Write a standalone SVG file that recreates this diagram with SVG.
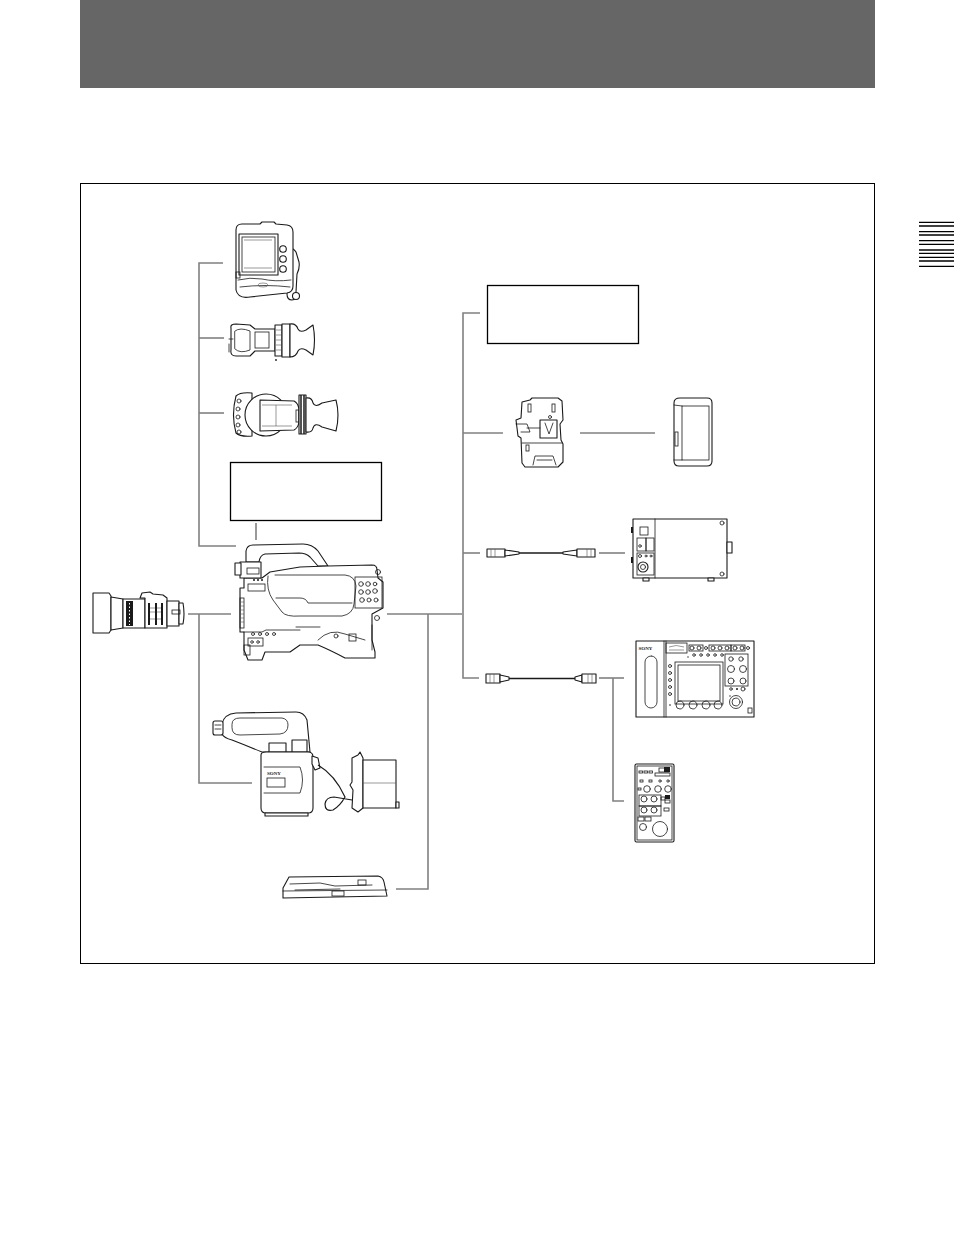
<svg xmlns="http://www.w3.org/2000/svg" width="954" height="1244" viewBox="0 0 954 1244">
<style>
.conn{fill:none;stroke:#808080;stroke-width:1.6}
.ill{fill:#fff;stroke:#1a1a1a;stroke-width:1.1;stroke-linejoin:round;stroke-linecap:round}
.ln{fill:none;stroke:#1a1a1a;stroke-width:0.8;stroke-linecap:round}
.fn{fill:none;stroke:#555;stroke-width:0.6}
.dk{fill:#1a1a1a;stroke:none}
.box{fill:#fff;stroke:#000;stroke-width:1.3}
.tab{stroke:#000;stroke-width:1.3}
.logo{font-family:"Liberation Serif",serif;font-weight:bold;fill:#1a1a1a}
</style>
<rect width="954" height="1244" fill="#fff"/>
<rect id="header" x="80" y="0" width="795" height="88" fill="#666"/>
<g id="tab">
<line class="tab" x1="919" y1="222.3" x2="954" y2="222.3"/>
<line class="tab" x1="919" y1="226" x2="954" y2="226"/>
<line class="tab" x1="919" y1="231.7" x2="954" y2="231.7"/>
<line class="tab" x1="919" y1="235" x2="954" y2="235"/>
<line class="tab" x1="919" y1="240.7" x2="954" y2="240.7"/>
<line class="tab" x1="919" y1="244.3" x2="954" y2="244.3"/>
<line class="tab" x1="919" y1="250" x2="954" y2="250"/>
<line class="tab" x1="919" y1="253.3" x2="954" y2="253.3"/>
<line class="tab" x1="919" y1="257.3" x2="954" y2="257.3"/>
<line class="tab" x1="919" y1="261" x2="954" y2="261"/>
<line class="tab" x1="919" y1="266.3" x2="954" y2="266.3"/>
</g>
<rect id="frame" x="80.5" y="183.5" width="794" height="780" fill="none" stroke="#000" stroke-width="1"/>

<g id="connectors">
<path class="conn" d="M223,263 H199 V546 H236"/>
<path class="conn" d="M199,338 H224"/>
<path class="conn" d="M199,413 H224"/>
<path class="conn" d="M256,523 V540"/>
<path class="conn" d="M188,614 H231"/>
<path class="conn" d="M199,614 V783 H252"/>
<path class="conn" d="M387,614 H462"/>
<path class="conn" d="M428,614 V889 H396"/>
<path class="conn" d="M480,313 H463 V678 H479"/>
<path class="conn" d="M463,433 H503"/>
<path class="conn" d="M463,553 H480"/>
<path class="conn" d="M580,433 H655"/>
<path class="conn" d="M599,553 H625"/>
<path class="conn" d="M599,678 H624"/>
<path class="conn" d="M613,678 V801 H624"/>
</g>

<g id="box-left"><rect class="box" x="230.5" y="462.5" width="151" height="58"/></g>
<g id="box-right"><rect class="box" x="487.5" y="285.5" width="151" height="58"/></g>

<g id="monitor">
<path class="ill" d="M286,250 Q292,246 296,252 L299,262 Q300,268 297,274 L296,292 Q297,300 292,300 Q287,300 287,294 L287,262 Z"/>
<path class="ill" d="M236,230 Q236,224 242,224 L260,224 L262,222 L274,222 L276,224 L287,225 Q293,226 293,232 L293,286 Q293,292 287,293 L250,297 Q238,299 236,290 Z"/>
<rect class="ill" x="239" y="234" width="39" height="41"/>
<rect class="ln" x="242" y="237" width="33" height="35"/>
<line class="fn" x1="244" y1="240" x2="272" y2="240"/>
<line class="fn" x1="244" y1="268" x2="272" y2="268"/>
<circle class="ill" cx="283" cy="249" r="3.3"/>
<circle class="ill" cx="283" cy="259" r="3.3"/>
<circle class="ill" cx="283" cy="269" r="3.3"/>
<path class="ln" d="M238,280 Q250,277 262,279 Q275,282 291,280"/>
<path class="ln" d="M240,287 Q265,284 290,287"/>
<ellipse class="fn" cx="263" cy="285" rx="5" ry="2"/>
<rect class="ln" x="236" y="272" width="4" height="6"/>
<circle class="ill" cx="296" cy="296" r="3.5"/>
</g>

<g id="viewfinder1">
<path class="ill" d="M231,328 Q230,324 236,324 L250,325 L255,329 L275,329 L275,351 L255,351 L250,356 L236,356 Q230,356 231,350 Z"/>
<path class="ln" d="M235,331 Q240,327 250,331 L250,350 Q240,354 235,349 Z"/>
<rect class="ln" x="255" y="332" width="14" height="16"/>
<line class="ln" x1="229" y1="339" x2="233" y2="339"/>
<line class="ln" x1="229" y1="344" x2="229" y2="352"/>
<rect class="ill" x="275" y="325" width="7" height="31"/>
<rect class="ill" x="282" y="324" width="8" height="33"/>
<line class="fn" x1="276" y1="330" x2="281" y2="330"/>
<line class="fn" x1="276" y1="335" x2="281" y2="335"/>
<line class="fn" x1="276" y1="340" x2="281" y2="340"/>
<line class="fn" x1="276" y1="345" x2="281" y2="345"/>
<line class="fn" x1="276" y1="350" x2="281" y2="350"/>
<path class="ill" d="M290,324 Q296,323 298,329 Q300,333 306,330 L313,325 Q316,340 313,355 L306,350 Q300,347 298,351 Q296,357 290,357 Z"/>
<circle class="dk" cx="276" cy="360" r="0.9"/>
</g>

<g id="viewfinder2">
<path class="ill" d="M236,396 Q240,392 252,393 L252,436 Q240,437 236,433 Q231,415 236,396 Z"/>
<circle class="ill" cx="266" cy="415" r="21"/>
<path class="ill" d="M260,400 L294,401 Q298,403 299,409 L299,422 Q298,428 294,430 L260,431 Z"/>
<path class="fn" d="M262,405 L292,405 M262,426 L292,426 M276,405 L276,426"/>
<rect class="ln" x="296" y="410" width="3" height="12"/>
<circle class="ln" cx="239" cy="401" r="2"/>
<circle class="ln" cx="238" cy="409" r="2"/>
<circle class="ln" cx="238" cy="417" r="2"/>
<circle class="ln" cx="238" cy="425" r="2"/>
<circle class="ln" cx="239" cy="432" r="2"/>
<rect class="ill" x="299" y="395" width="7" height="39"/>
<line x1="301" y1="395" x2="301" y2="434" stroke="#1a1a1a" stroke-width="1.5"/>
<line x1="304" y1="395" x2="304" y2="434" stroke="#1a1a1a" stroke-width="1.5"/>
<path class="ill" d="M306,398 Q312,397 313,403 Q315,408 322,403 L336,400 Q340,415 336,431 L322,427 Q315,422 313,428 Q312,433 306,432 Z"/>
</g>

<g id="camera">
<path class="ill" d="M246,562 L246,551 Q247,545 253,545 L303,544 Q312,544 318,551 L328,566 L318,566 L310,557 Q306,553 299,553 L265,554 Q260,555 259,562 Z"/>
<path class="ill" d="M244,578 L262,578 L270,572 L300,567 L328,566 L372,565 Q377,565 377,570 L378,578 L383,582 L383,608 L372,614 L372,640 L375,652 L375,658 L345,658 Q330,650 318,645 L300,645 L290,652 L265,652 L262,660 L248,660 L244,650 L244,632 L240,632 L240,588 L244,588 Z"/>
<rect class="ill" x="240" y="562" width="21" height="16"/>
<rect class="ill" x="235" y="563" width="6" height="12"/>
<rect class="ln" x="247" y="568" width="12" height="6"/>
<circle class="dk" cx="254" cy="580" r="1"/><circle class="dk" cx="258" cy="580" r="1"/><circle class="dk" cx="262" cy="580" r="1"/>
<rect class="ln" x="248" y="584" width="17" height="7"/>
<path class="ln" d="M268,576 Q266,590 273,600 L282,612 Q286,617 300,616 L342,616 Q353,614 354,604 L356,586 Q355,576 345,575 L275,575"/>
<path class="ln" d="M276,598 L300,598 Q306,598 308,603 L352,603"/>
<rect class="ln" x="355" y="577" width="27" height="31"/>
<circle class="ln" cx="361" cy="584" r="2.3"/><circle class="ln" cx="368" cy="584" r="2.3"/><circle class="ln" cx="375" cy="584" r="1.8"/>
<circle class="ln" cx="361" cy="592" r="2.3"/><circle class="ln" cx="368" cy="592" r="2.3"/><circle class="ln" cx="375" cy="591" r="2.3"/>
<circle class="ln" cx="362" cy="600" r="2.3"/><circle class="ln" cx="369" cy="600" r="2"/><circle class="ln" cx="376" cy="600" r="2"/>
<circle class="ln" cx="378" cy="572" r="2.5"/>
<circle class="ln" cx="377" cy="618" r="2.5"/>
<rect class="ln" x="240" y="598" width="4" height="30"/>
<path class="fn" d="M240,602 H244 M240,606 H244 M240,610 H244 M240,614 H244 M240,618 H244 M240,622 H244"/>
<path class="ln" d="M244,632 L262,632 L266,630 L300,630"/>
<circle class="ln" cx="253" cy="634" r="1.5"/><circle class="ln" cx="260" cy="634" r="1.5"/><circle class="ln" cx="267" cy="634" r="1.5"/><circle class="ln" cx="274" cy="634" r="1.5"/>
<rect class="ln" x="248" y="638" width="15" height="8"/>
<circle class="ln" cx="252" cy="642" r="1.3"/><circle class="ln" cx="258" cy="642" r="1.3"/>
<rect class="ln" x="244" y="645" width="6" height="10"/>
<path class="ln" d="M296,627 L320,627"/>
<path class="ln" d="M318,640 Q330,628 345,634 L365,640"/>
<rect class="ln" x="349" y="634" width="7" height="7"/>
<circle class="ln" cx="336" cy="636" r="2"/>
<line class="ln" x1="372" y1="625" x2="372" y2="650"/>
</g>

<g id="lens">
<path class="ill" d="M93,593 L109,593 L111,596 L111,630 L109,633 L93,633 Z"/>
<path class="ill" d="M111,597 L123,599 L123,628 L111,630 Z"/>
<rect class="ill" x="123" y="599" width="22" height="29"/>
<rect x="126" y="601" width="7" height="25" fill="#1a1a1a"/>
<line x1="129.5" y1="603" x2="129.5" y2="625" stroke="#fff" stroke-width="1" stroke-dasharray="1.5,2"/>
<path class="ill" d="M140,598 L142,593 L150,592 L153,594 L163,595 L167,598 L167,628 L145,628 L145,598 Z"/>
<rect x="148" y="603" width="2" height="22" fill="#1a1a1a"/>
<rect x="155" y="603" width="2" height="22" fill="#1a1a1a"/>
<rect x="161" y="603" width="2" height="22" fill="#1a1a1a"/>
<path class="fn" d="M150,608 H155 M150,612 H155 M150,619 H155 M157,608 H161 M157,612 H161 M157,619 H161"/>
<rect class="ill" x="167" y="601" width="12" height="25"/>
<path class="ill" d="M179,603 L183,603 Q185,614 183,624 L179,624 Z"/>
<rect class="ln" x="172" y="610" width="8" height="4"/>
</g>

<g id="adapter">
<path class="ill" d="M222,734 L222,724 Q224,714 236,713 L296,712 Q304,712 307,720 L310,752 L262,752 Q245,745 232,740 Q224,738 222,734 Z"/>
<path class="ln" d="M232,724 Q232,718 240,718 L282,718 Q288,719 288,725 Q288,733 280,734 L240,735 Q232,735 232,728 Z"/>
<rect class="ill" x="213" y="721" width="10" height="14" rx="2"/>
<path class="ln" d="M215,725 H221 M215,729 H221"/>
<rect class="ill" x="269" y="743" width="17" height="9"/>
<rect class="ill" x="292" y="740" width="15" height="12"/>
<path class="ill" d="M261,755 Q261,752 266,752 L308,752 Q313,752 313,757 L313,808 Q313,813 308,813 L266,813 Q261,813 261,808 Z"/>
<path class="ln" d="M264,767 L300,767 Q305,780 300,793 L264,793"/>
<text class="logo" x="267" y="775" font-size="5">SONY</text>
<rect class="ln" x="267" y="778" width="18" height="9"/>
<rect class="ill" x="265" y="813" width="43" height="3"/>
<path class="ill" d="M312,756 L318,758 L320,768 L315,770 L312,764 Z"/>
<path fill="none" stroke="#1a1a1a" stroke-width="1.2" d="M318,765 Q335,775 345,797 Q340,806 333,810 Q325,812 325,804 Q326,797 334,797 L352,800"/>
<path class="ill" d="M352,758 L358,755 L360,752 L363,758 L363,808 L358,812 L352,808 L353,790 L350,785 L352,782 Z"/>
<rect class="ill" x="363" y="760" width="33" height="48"/>
<line class="fn" x1="363" y1="783" x2="396" y2="783"/>
<rect class="ill" x="396" y="802" width="3" height="6"/>
</g>

<g id="tripod-adapter">
<path class="ill" d="M289,877 L378,876 Q383,877 384,882 L387,896 L283,898 L283,888 Z"/>
<path class="ln" d="M290,884 L320,883 L335,886 L372,885"/>
<path class="ln" d="M295,890 L340,889"/>
<rect class="ln" x="332" y="891" width="12" height="5"/>
<rect class="ln" x="358" y="880" width="8" height="5"/>
<line class="ln" x1="283" y1="891" x2="387" y2="890"/>
</g>

<g id="mount-plate">
<path class="ill" d="M522,402 L530,400 L532,398 L558,398 L562,401 L563,420 L560,424 L561,440 L563,444 L563,462 L558,467 L525,467 L522,463 L521,438 L518,436 L516,420 L521,418 Z"/>
<rect class="ln" x="528" y="404" width="3" height="8"/>
<rect class="ln" x="552" y="404" width="3" height="8"/>
<circle class="ln" cx="550" cy="417" r="1.5"/>
<rect class="ill" x="540" y="420" width="17" height="18"/>
<path class="ln" d="M545,423 L549,434 L553,423"/>
<path class="ln" d="M516,424 L527,424 L530,432 L521,432"/>
<line class="ln" x1="527" y1="428" x2="540" y2="428"/>
<line class="ln" x1="522" y1="443" x2="562" y2="443"/>
<rect class="ln" x="526" y="445" width="3" height="6"/>
<path class="ln" d="M533,465 L535,456 L553,456 L556,465"/>
<line class="ln" x1="537" y1="460" x2="552" y2="460"/>
</g>

<g id="battery">
<path class="ill" d="M674,403 Q674,398 680,398 L707,398 Q712,398 712,403 L712,461 Q712,466 707,466 L679,466 Q674,466 674,461 Z"/>
<rect class="ln" x="682" y="406" width="27" height="54"/>
<path class="ln" d="M674,405 L682,406 M674,460 L682,460"/>
<rect class="ln" x="675" y="432" width="3" height="14"/>
</g>

<g id="cable1">
<rect class="ill" x="487" y="549" width="18" height="8"/>
<path class="fn" d="M491,549 V557 M495,549 V557"/>
<path class="ill" d="M505,550 L519,552 L519,554 L505,556 Z"/>
<line x1="519" y1="553" x2="563" y2="553" stroke="#1a1a1a" stroke-width="1.4"/>
<path class="ill" d="M563,552 L577,550 L577,556 L563,554 Z"/>
<rect class="ill" x="577" y="549" width="18" height="8"/>
<path class="fn" d="M587,549 V557 M591,549 V557"/>
</g>

<g id="ac-adapter">
<rect class="ill" x="633" y="519" width="94" height="59"/>
<line class="ln" x1="655" y1="519" x2="655" y2="578"/>
<rect class="ln" x="640" y="527" width="8" height="8"/>
<rect class="ln" x="637" y="538" width="9" height="13"/>
<rect class="ln" x="646" y="538" width="8" height="13"/>
<circle class="ln" cx="640" cy="546" r="1.3"/>
<rect class="ln" x="637" y="553" width="17" height="22"/>
<circle class="ln" cx="640" cy="556" r="1.5"/><circle class="ln" cx="646" cy="556" r="1"/><circle class="ln" cx="651" cy="556" r="1"/>
<circle class="ill" cx="643" cy="567" r="5"/>
<circle class="ln" cx="643" cy="567" r="2.5"/>
<rect class="dk" x="631" y="527" width="2" height="6"/>
<rect class="dk" x="631" y="557" width="2" height="6"/>
<circle class="ln" cx="722" cy="523" r="2"/>
<circle class="ln" cx="722" cy="574" r="2"/>
<rect class="ill" x="727" y="542" width="5" height="11"/>
<rect class="ill" x="643" y="578" width="6" height="3"/>
<rect class="ill" x="708" y="578" width="6" height="3"/>
</g>

<g id="cable2">
<rect class="ill" x="486" y="674" width="14" height="9"/>
<path class="fn" d="M490,674 V683 M494,674 V683"/>
<path class="ill" d="M500,675 L509,677 L509,680 L500,682 Z"/>
<line x1="509" y1="678.5" x2="575" y2="678.5" stroke="#1a1a1a" stroke-width="1.4"/>
<path class="ill" d="M575,677 L582,675 L582,682 L575,680 Z"/>
<rect class="ill" x="582" y="674" width="14" height="9"/>
<path class="fn" d="M588,674 V683 M592,674 V683"/>
</g>

<g id="rcp">
<rect class="ill" x="636" y="641" width="118" height="76"/>
<line class="ln" x1="664" y1="641" x2="664" y2="717"/>
<line class="ln" x1="666" y1="641" x2="666" y2="717"/>
<text class="logo" x="638.5" y="650" font-size="5">SONY</text>
<rect class="ln" x="645" y="656" width="12" height="52" rx="6"/>
<rect class="ln" x="666" y="643" width="21" height="10"/>
<path class="fn" d="M669,647 Q676,644 684,647 M669,650 H684"/>
<rect class="ln" x="689" y="645" width="14" height="6"/>
<circle class="ln" cx="692" cy="648" r="2"/><circle class="ln" cx="699" cy="648" r="2"/>
<circle class="ln" cx="706" cy="648" r="1.5"/>
<rect class="ln" x="709" y="645" width="22" height="6"/>
<circle class="ln" cx="713" cy="648" r="2"/><circle class="ln" cx="720" cy="648" r="2"/><circle class="ln" cx="727" cy="648" r="2"/>
<rect class="ln" x="731" y="645" width="14" height="6"/>
<circle class="ln" cx="735" cy="648" r="2"/><circle class="ln" cx="742" cy="648" r="2"/>
<circle class="ln" cx="748" cy="648" r="1.5"/>
<circle class="ln" cx="694" cy="655" r="1.3"/><circle class="ln" cx="701" cy="655" r="1.3"/><circle class="ln" cx="708" cy="655" r="1.3"/><circle class="ln" cx="715" cy="655" r="1.3"/><circle class="ln" cx="722" cy="655" r="1.3"/>
<circle class="dk" cx="688" cy="657" r="0.7"/>
<rect class="ln" x="675" y="662" width="48" height="42"/>
<rect class="ln" x="678" y="665" width="42" height="36"/>
<circle class="ln" cx="670" cy="666" r="1.5"/><circle class="ln" cx="670" cy="673" r="1.5"/><circle class="ln" cx="670" cy="680" r="1.5"/><circle class="ln" cx="670" cy="687" r="1.5"/><circle class="ln" cx="670" cy="694" r="1.5"/>
<rect class="ln" x="725" y="654" width="23" height="32"/>
<circle class="ln" cx="731" cy="659" r="2.2"/><circle class="ln" cx="741" cy="659" r="2.2"/>
<circle class="ln" cx="731" cy="669" r="3.5"/><circle class="ln" cx="743" cy="669" r="3.5"/>
<circle class="ln" cx="731" cy="681" r="3"/><circle class="ln" cx="743" cy="681" r="3"/>
<circle class="ln" cx="731" cy="689" r="1.3"/><circle class="dk" cx="737" cy="689" r="1"/><circle class="ln" cx="743" cy="689" r="2"/>
<circle class="dk" cx="670" cy="705" r="0.8"/>
<circle class="ln" cx="680" cy="705" r="4"/><circle class="ln" cx="693" cy="705" r="4"/><circle class="ln" cx="706" cy="705" r="4"/><circle class="ln" cx="718" cy="705" r="4"/>
<circle class="ln" cx="736" cy="702" r="6.5"/><circle class="ln" cx="736" cy="702" r="4"/>
<circle class="dk" cx="730" cy="696" r="0.7"/>
<rect class="ln" x="748" y="708" width="4" height="5"/>
</g>

<g id="remote">
<rect class="ill" x="635" y="764" width="39" height="78" rx="1.5"/>
<rect class="ln" x="637" y="766" width="35" height="74"/>
<rect class="ln" x="659" y="768" width="10" height="4"/>
<rect x="664" y="767" width="6" height="5" fill="#1a1a1a"/>
<rect class="ln" x="639" y="771" width="3.5" height="2"/><rect class="ln" x="644" y="771" width="3.5" height="2"/><rect class="ln" x="649" y="771" width="3.5" height="2"/>
<rect class="ln" x="655" y="773" width="15" height="3"/>
<rect class="ln" x="640" y="780" width="3" height="2"/><rect class="ln" x="649" y="780" width="3" height="2"/>
<circle class="ln" cx="660" cy="781" r="1.2"/><circle class="ln" cx="668" cy="781" r="1.2"/>
<rect class="ln" x="638" y="788" width="3" height="2"/>
<circle class="ln" cx="647" cy="789" r="3.3"/><circle class="ln" cx="658" cy="789" r="3.3"/><circle class="ln" cx="668" cy="789" r="3.3"/>
<rect class="ln" x="639" y="795" width="22" height="11"/>
<circle class="ln" cx="644" cy="799" r="3"/><circle class="ln" cx="654" cy="799" r="3"/>
<rect x="665" y="795" width="5" height="4" fill="#1a1a1a"/>
<rect class="ln" x="661" y="797" width="4" height="3"/><rect class="ln" x="665" y="800" width="5" height="3"/>
<rect class="ln" x="639" y="806" width="22" height="10"/>
<circle class="ln" cx="644" cy="810" r="3"/><circle class="ln" cx="654" cy="810" r="3"/>
<rect class="ln" x="664" y="808" width="5" height="3"/>
<rect class="ln" x="638" y="817" width="6" height="4"/><rect class="ln" x="645" y="817" width="6" height="4"/>
<circle class="ln" cx="643" cy="827" r="3.5"/>
<circle class="ln" cx="660" cy="829" r="7.5"/>
</g>
</svg>
